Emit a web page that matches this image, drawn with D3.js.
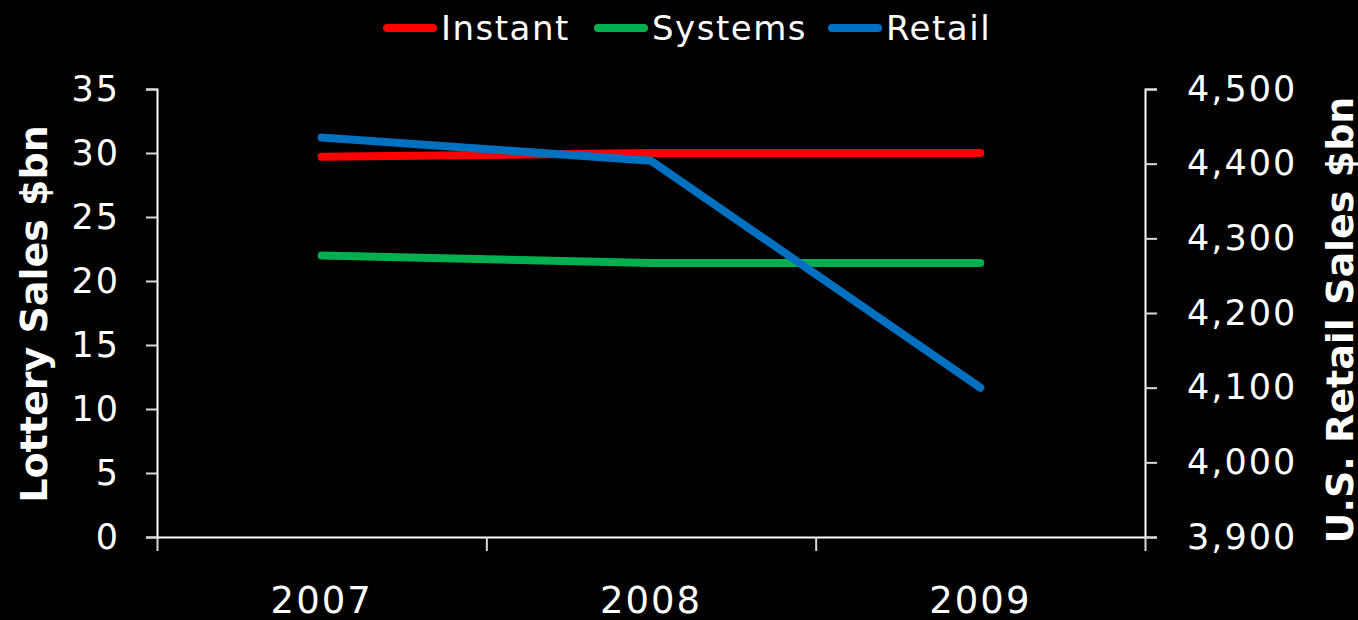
<!DOCTYPE html>
<html>
<head>
<meta charset="utf-8">
<script src="https://cdn.jsdelivr.net/npm/d3@7"></script>
<style>
  html, body { margin: 0; padding: 0; background: #000; }
  svg { display: block; }
  text { font-family: "DejaVu Sans", Verdana, sans-serif; fill: #fff; }
</style>
</head>
<body>
<svg id="chart" width="1358" height="620"></svg>
<script>
// Lottery sales (left axis, $bn) and U.S. retail sales (right axis, $bn)
const years = ["2007", "2008", "2009"];
const instant = [29.7, 30.0, 30.0];
const systems = [22.0, 21.4, 21.4];
const retail = [4435, 4404, 4100];

const leftTicks = [0, 5, 10, 15, 20, 25, 30, 35];
const rightTicks = [3900, 4000, 4100, 4200, 4300, 4400, 4500];

const seriesNames = ["Instant", "Systems", "Retail"];
const seriesColors = ["#ff0000", "#00b050", "#0070c0"];

const plot = { left: 157, right: 1145, top: 89, bottom: 537 };

const svg = d3.select("#chart");

const x = d3.scaleBand().domain(years).range([plot.left, plot.right]);
const xEdge = d3.scaleLinear().domain([0, years.length]).range([plot.left, plot.right]);
const yL = d3.scaleLinear().domain([0, 35]).range([plot.bottom, plot.top]);
const yR = d3.scaleLinear().domain([3900, 4500]).range([plot.bottom, plot.top]);

const fmt = d3.format(",");

function styleAxis(g) {
  g.select(".domain").attr("stroke", "#fff").attr("stroke-width", 2);
  g.selectAll(".tick line").attr("stroke", "#d9d9d9").attr("stroke-width", 2);
  g.selectAll(".tick text").attr("fill", "#fff").attr("font-family", "DejaVu Sans, Verdana, sans-serif");
}

// Left axis
svg.append("g")
  .attr("transform", `translate(${plot.left},0)`)
  .call(d3.axisLeft(yL).tickValues(leftTicks).tickSize(11).tickPadding(28).tickSizeOuter(11))
  .call(styleAxis)
  .call(g => g.selectAll(".tick text").attr("font-size", 35).attr("letter-spacing", 2).attr("dx", 2));

// Right axis
svg.append("g")
  .attr("transform", `translate(${plot.right},0)`)
  .call(d3.axisRight(yR).tickValues(rightTicks).tickFormat(fmt).tickSize(12).tickPadding(30).tickSizeOuter(12))
  .call(styleAxis)
  .call(g => g.selectAll(".tick text").attr("font-size", 35).attr("letter-spacing", 2));

// Category axis: tick marks on band edges, labels at band centers
svg.append("g")
  .attr("transform", `translate(0,${plot.bottom})`)
  .call(d3.axisBottom(xEdge).tickValues(d3.range(years.length + 1)).tickFormat("").tickSize(14).tickSizeOuter(0))
  .call(styleAxis);

svg.append("g")
  .attr("transform", `translate(0,${plot.bottom})`)
  .call(d3.axisBottom(x).tickSize(0).tickPadding(50))
  .call(g => g.select(".domain").remove())
  .call(g => g.selectAll(".tick text").attr("fill", "#fff").attr("font-size", 37)
    .attr("letter-spacing", 2)
    .attr("font-family", "DejaVu Sans, Verdana, sans-serif"));

// Axis titles
svg.append("text")
  .attr("transform", `translate(34,314) rotate(-90)`)
  .attr("text-anchor", "middle")
  .attr("dominant-baseline", "central")
  .attr("font-size", 38)
  .attr("font-weight", "bold")
  .text("Lottery Sales $bn");

svg.append("text")
  .attr("transform", `translate(1340,320) rotate(-90)`)
  .attr("text-anchor", "middle")
  .attr("dominant-baseline", "central")
  .attr("font-size", 38)
  .attr("font-weight", "bold")
  .text("U.S. Retail Sales $bn");

// Series lines
const cx = d => x(d) + x.bandwidth() / 2;
const series = [
  { name: seriesNames[0], color: seriesColors[0], values: instant, y: yL },
  { name: seriesNames[1], color: seriesColors[1], values: systems, y: yL },
  { name: seriesNames[2], color: seriesColors[2], values: retail, y: yR }
];

series.forEach(s => {
  const line = d3.line().x((v, i) => cx(years[i])).y(v => s.y(v));
  svg.append("path")
    .datum(s.values)
    .attr("d", line)
    .attr("fill", "none")
    .attr("stroke", s.color)
    .attr("stroke-width", 8)
    .attr("stroke-linecap", "round")
    .attr("stroke-linejoin", "round");
});

// Legend
const legendX = [387, 598, 832];
const legend = svg.append("g");
series.forEach((s, i) => {
  const g = legend.append("g").attr("transform", `translate(${legendX[i]},28)`);
  g.append("line")
    .attr("x1", 0).attr("x2", 46).attr("y1", 0).attr("y2", 0)
    .attr("stroke", s.color).attr("stroke-width", 8).attr("stroke-linecap", "round");
  g.append("text")
    .attr("x", 54).attr("y", 12)
    .attr("font-size", 34)
    .attr("letter-spacing", 1.5)
    .text(s.name);
});
</script>
</body>
</html>
